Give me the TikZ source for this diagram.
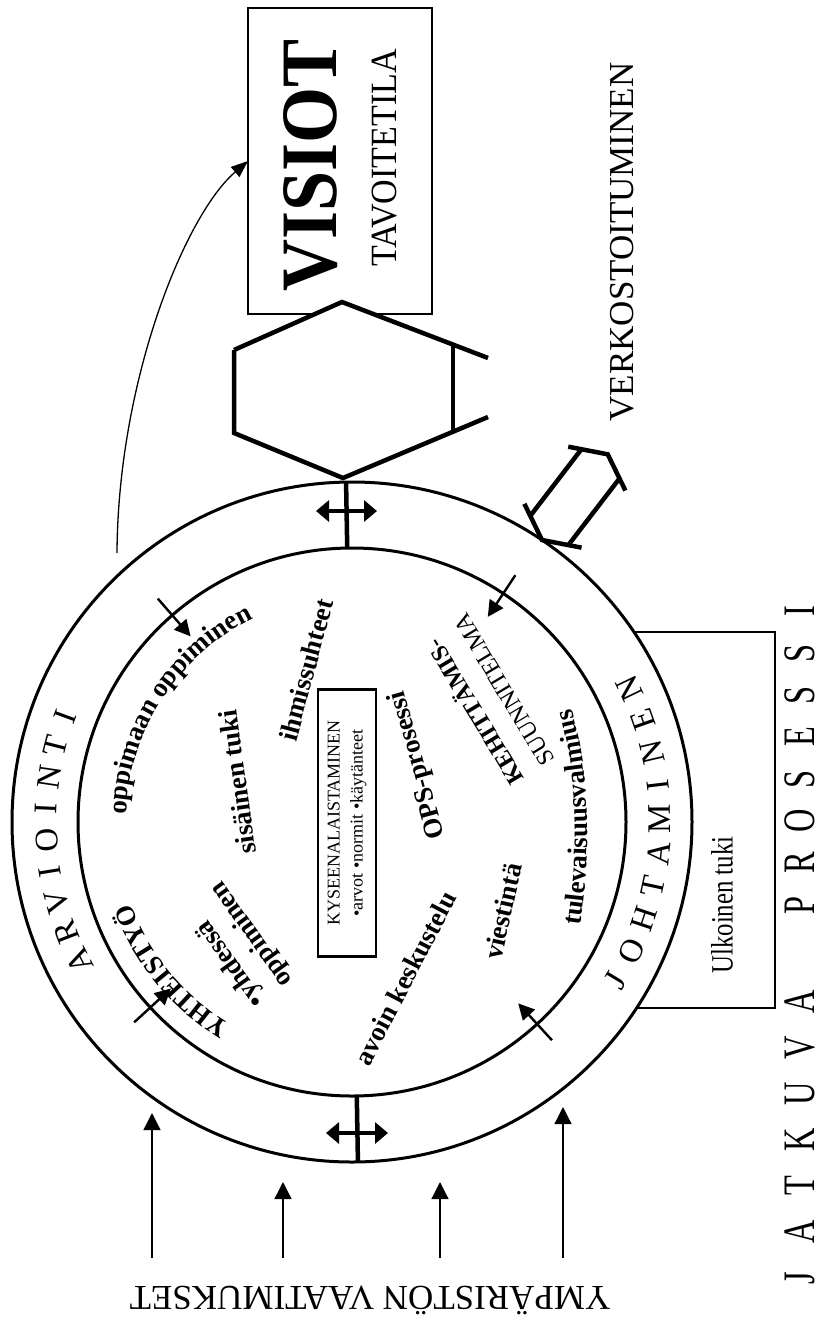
\documentclass[tikz,border=0pt]{standalone}
\usepackage{fontspec}
\setmainfont{Liberation Serif}
\usetikzlibrary{arrows.meta,decorations.text,calc}
\newcommand\innerfont{\fontsize{27}{34}\selectfont\bfseries}
\begin{document}
\begin{tikzpicture}[x=1pt,y=1pt,
  every node/.style={inner sep=0pt,outer sep=0pt},
  ringline/.style={line width=3pt},
  heavy/.style={line width=4.5pt},
  inward/.style={line width=2.4pt,-{Triangle[length=16pt,width=16pt]}},
  demand/.style={line width=1.3pt,-{Triangle[length=17pt,width=17pt]}},
  twoway/.style={line width=3.6pt,{Triangle[length=13pt,width=21pt]}-{Triangle[length=13pt,width=21pt]}},
  lbl/.style={font=\innerfont},
  ringletter/.style={font=\fontsize{33}{33}\selectfont},
]
\useasboundingbox (0,0) rectangle (833,-1320);
\coordinate (C) at (352,-822);

% external support box, its left part hidden behind the ring
\node[draw,line width=2.6pt,minimum width=180,minimum height=376,anchor=east] (ulk) at (775,-820) {};
\node[rotate=90,font=\fontsize{31}{31}\selectfont] (ulktxt) at (722,-905) {\scalebox{0.8}[1]{Ulkoinen tuki}};

% the two rings
\node[circle,draw,ringline,fill=white,minimum size=680] (outer) at (C) {};
\node[circle,draw,ringline,minimum size=548] (inner) at (C) {};

% spokes through the ring with two-way arrows
\draw[heavy] (outer.91) -- (inner.91);
\draw[heavy] (inner.-89) -- (outer.-89);
\coordinate (tw1) at (316,-511);
\coordinate (tw2) at (377,-511);
\draw[twoway] (tw1) -- (tw2);
\coordinate (bw1) at (326,-1133);
\coordinate (bw2) at (388,-1133);
\draw[twoway] (bw1) -- (bw2);

% inward arrows across the inner ring
\foreach \a [count=\i] in {131,222.6,56.5,312.5} {
  \coordinate (ia\i) at ($(C)+(\a:296)$);
  \coordinate (ib\i) at ($(C)+(\a:246)$);
  \draw[inward] (ia\i) -- (ib\i);
}

% ring labels
\foreach \ch [count=\i] in {A,R,V,I,O,I,N,T,I} {
  \pgfmathsetmacro\ang{207-(\i-1)*5.9}
  \node[ringletter,rotate=\ang-90] (arv\i) at ($(C)+(\ang:306)$) {\ch};
}
\foreach \ch [count=\i] in {J,O,H,T,A,M,I,N,E,N} {
  \pgfmathsetmacro\ang{-31+(\i-1)*6.3}
  \node[ringletter,rotate=\ang+90] (joh\i) at ($(C)+(\ang:308)$) {\ch};
}

% goal box
\node[draw,line width=2.4pt,minimum width=184,minimum height=306] (visiot) at (340,-161) {};
\node[rotate=90,font=\fontsize{80}{80}\selectfont\bfseries] (vis) at (311,-165) {\scalebox{0.9}[1]{VISIOT}};
\node[rotate=90,font=\fontsize{37}{37}\selectfont] (tav) at (385,-158) {\scalebox{0.92}[1]{TAVOITETILA}};

% hexagon between ring and goal box
\fill[white] (342,-302) -- (453,-345) -- (453,-432) -- (343,-478) -- (234,-433) -- (234,-350) -- cycle;
\draw[heavy,line join=miter] (234,-350) -- (342,-302) -- (488,-358);
\draw[heavy,line join=miter] (488,-417) -- (343,-478) -- (234,-433) -- (234,-350);
\draw[heavy] (453,-345) -- (453,-432);

% curved arrow from the ring to the goal box
\coordinate (bend0) at (117,-553);
\draw[line width=1.3pt,-{Triangle[length=17pt,width=13pt]}] (bend0) .. controls (118,-380) and (185,-215) .. (visiot.west);

% networking: hollow double arrow
\begin{scope}[shift={(542,-540)},rotate=52.5,line width=4.5pt]
  \draw (18,36) -- (0,0) -- (18,-36);
  \draw (90,36) -- (108,0) -- (90,-36);
  \draw (12,24) -- (96,24);
  \draw (12,-24) -- (96,-24);
\end{scope}
\node[rotate=90,font=\fontsize{35}{35}\selectfont] (verk) at (622,-242) {VERKOSTOITUMINEN};

% environment demands
\foreach \x/\t [count=\i] in {152/1113,283/1182,440/1182,563/1107} {
  \coordinate (d\i) at (\x,-1258);
  \coordinate (e\i) at (\x,-\t);
  \draw[demand] (d\i) -- (e\i);
}
\node[rotate=180,font=\fontsize{35}{35}\selectfont] (ymp) at (370,-1300) {YMPÄRISTÖN VAATIMUKSET};

% continuous process
\foreach \ch/\y [count=\i] in {J/1278,A/1232,T/1186,K/1140,U/1094,V/1048,A/1002,P/905,R/863,O/821,S/779,E/737,S/695,S/653,I/611} {
  \node[rotate=90,font=\fontsize{45}{45}\selectfont] (jat\i) at (800,-\y) {\scalebox{0.72}[1]{\ch}};
}

% inner texts
\path[decorate,decoration={text along path,text={|\innerfont|oppimaan oppiminen},text align=center}]
  ($(C)+(182:226)$) arc[start angle=182,end angle=112,radius=226];
\path[decorate,decoration={text along path,text={|\fontsize{27}{27}\selectfont\bfseries|YHTEISTYÖ},text align=center}]
  ($(C)+(244:236)$) arc[start angle=244,end angle=195,radius=236];
\path[decorate,decoration={text along path,text={|\innerfont|tulevaisuusvalmius},text align=center}]
  (577,-945) .. controls (592,-860) and (593,-770) .. (566,-690);

\node[lbl,rotate=98] (sis) at (237,-782) {sisäinen tuki};
\node[lbl,rotate=75] (ihm) at (306,-670) {ihmissuhteet};
\node[lbl,rotate=125.6,align=left] (yhd) at (238,-944) {•yhdessä\\oppiminen};
\node[lbl,rotate=105.5] (ops) at (418,-765) {OPS-prosessi};
\node[rotate=121,align=left,font=\fontsize{24}{36}\selectfont] (keh) at (487,-700) {\textbf{KEHITTÄMIS-}\\SUUNNITELMA};
\node[lbl,rotate=77.4] (vie) at (503,-911) {viestintä};
\node[lbl,rotate=62.5] (avo) at (405,-978) {avoin keskustelu};

\node[draw,line width=2.6pt,rotate=90,minimum width=267,minimum height=58,align=center,font=\fontsize{18}{23}\selectfont] (kys) at (347,-823) {KYSEENALAISTAMINEN\\•arvot •normit •käytänteet};
\end{tikzpicture}
\end{document}
